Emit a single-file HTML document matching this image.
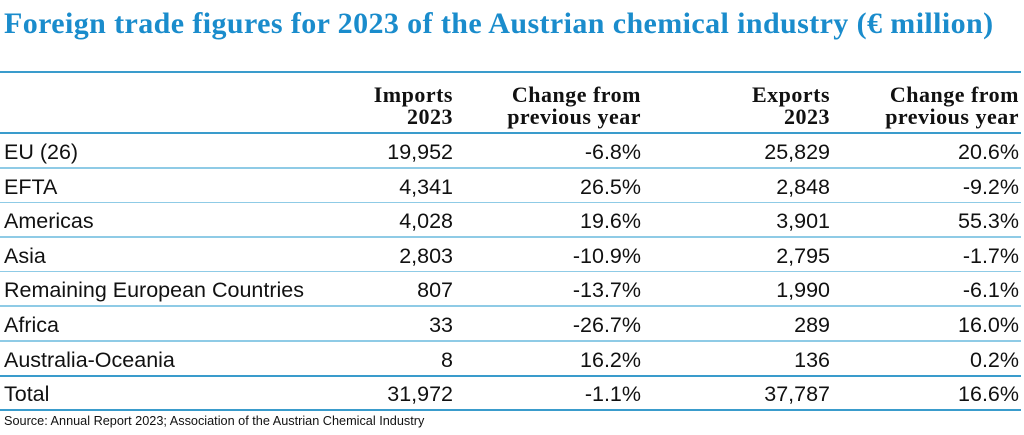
<!DOCTYPE html>
<html><head><meta charset="utf-8"><style>
body{margin:0;width:1024px;height:435px;background:#fff;position:relative;overflow:hidden;font-family:"Liberation Sans",sans-serif;color:#111}
.t{position:absolute;left:4px;top:7px;font-family:"Liberation Serif",serif;font-weight:bold;font-size:30px;letter-spacing:0.4px;color:#1a8ccc;white-space:nowrap}
.l{position:absolute;left:0;width:1021px;height:2px;background:#3a9ccc}
.h{position:absolute;font-family:"Liberation Serif",serif;font-weight:bold;font-size:22px;line-height:22px;letter-spacing:0.5px;text-align:right;white-space:nowrap}
.r{position:absolute;font-size:21.5px;white-space:nowrap;line-height:24px}
.n{text-align:right}
.s{position:absolute;left:4px;top:414px;font-size:12.7px}
</style></head><body>
<div class="t">Foreign trade figures for 2023 of the Austrian chemical industry (€ million)</div>
<div class="l" style="top:71px"></div>
<div class="h" style="right:571px;top:84px">Imports<br>2023</div>
<div class="h" style="right:383px;top:84px">Change from<br>previous year</div>
<div class="h" style="right:194px;top:84px">Exports<br>2023</div>
<div class="h" style="right:5px;top:84px">Change from<br>previous year</div>
<div class="l" style="top:132px"></div>
<div id="rows"></div>
<script>
var d=[["EU (26)","19,952","-6.8%","25,829","20.6%"],["EFTA","4,341","26.5%","2,848","-9.2%"],["Americas","4,028","19.6%","3,901","55.3%"],["Asia","2,803","-10.9%","2,795","-1.7%"],["Remaining European Countries","807","-13.7%","1,990","-6.1%"],["Africa","33","-26.7%","289","16.0%"],["Australia-Oceania","8","16.2%","136","0.2%"],["Total","31,972","-1.1%","37,787","16.6%"]];
var rt=[571,383,194,5],h="";
d.forEach(function(r,i){var y=140+i*34.6;
h+='<div class="r" style="left:4px;top:'+y+'px">'+r[0]+'</div>';
for(var j=1;j<5;j++)h+='<div class="r n" style="right:'+rt[j-1]+'px;top:'+y+'px">'+r[j]+'</div>';
h+='<div class="l" style="top:'+(167+i*34.6)+'px;'+(i==6||i==7?'':'background:#8fcbe6;height:1.5px')+'"></div>';});
document.getElementById("rows").innerHTML=h;
</script>
<div class="s">Source: Annual Report 2023; Association of the Austrian Chemical Industry</div>
</body></html>
